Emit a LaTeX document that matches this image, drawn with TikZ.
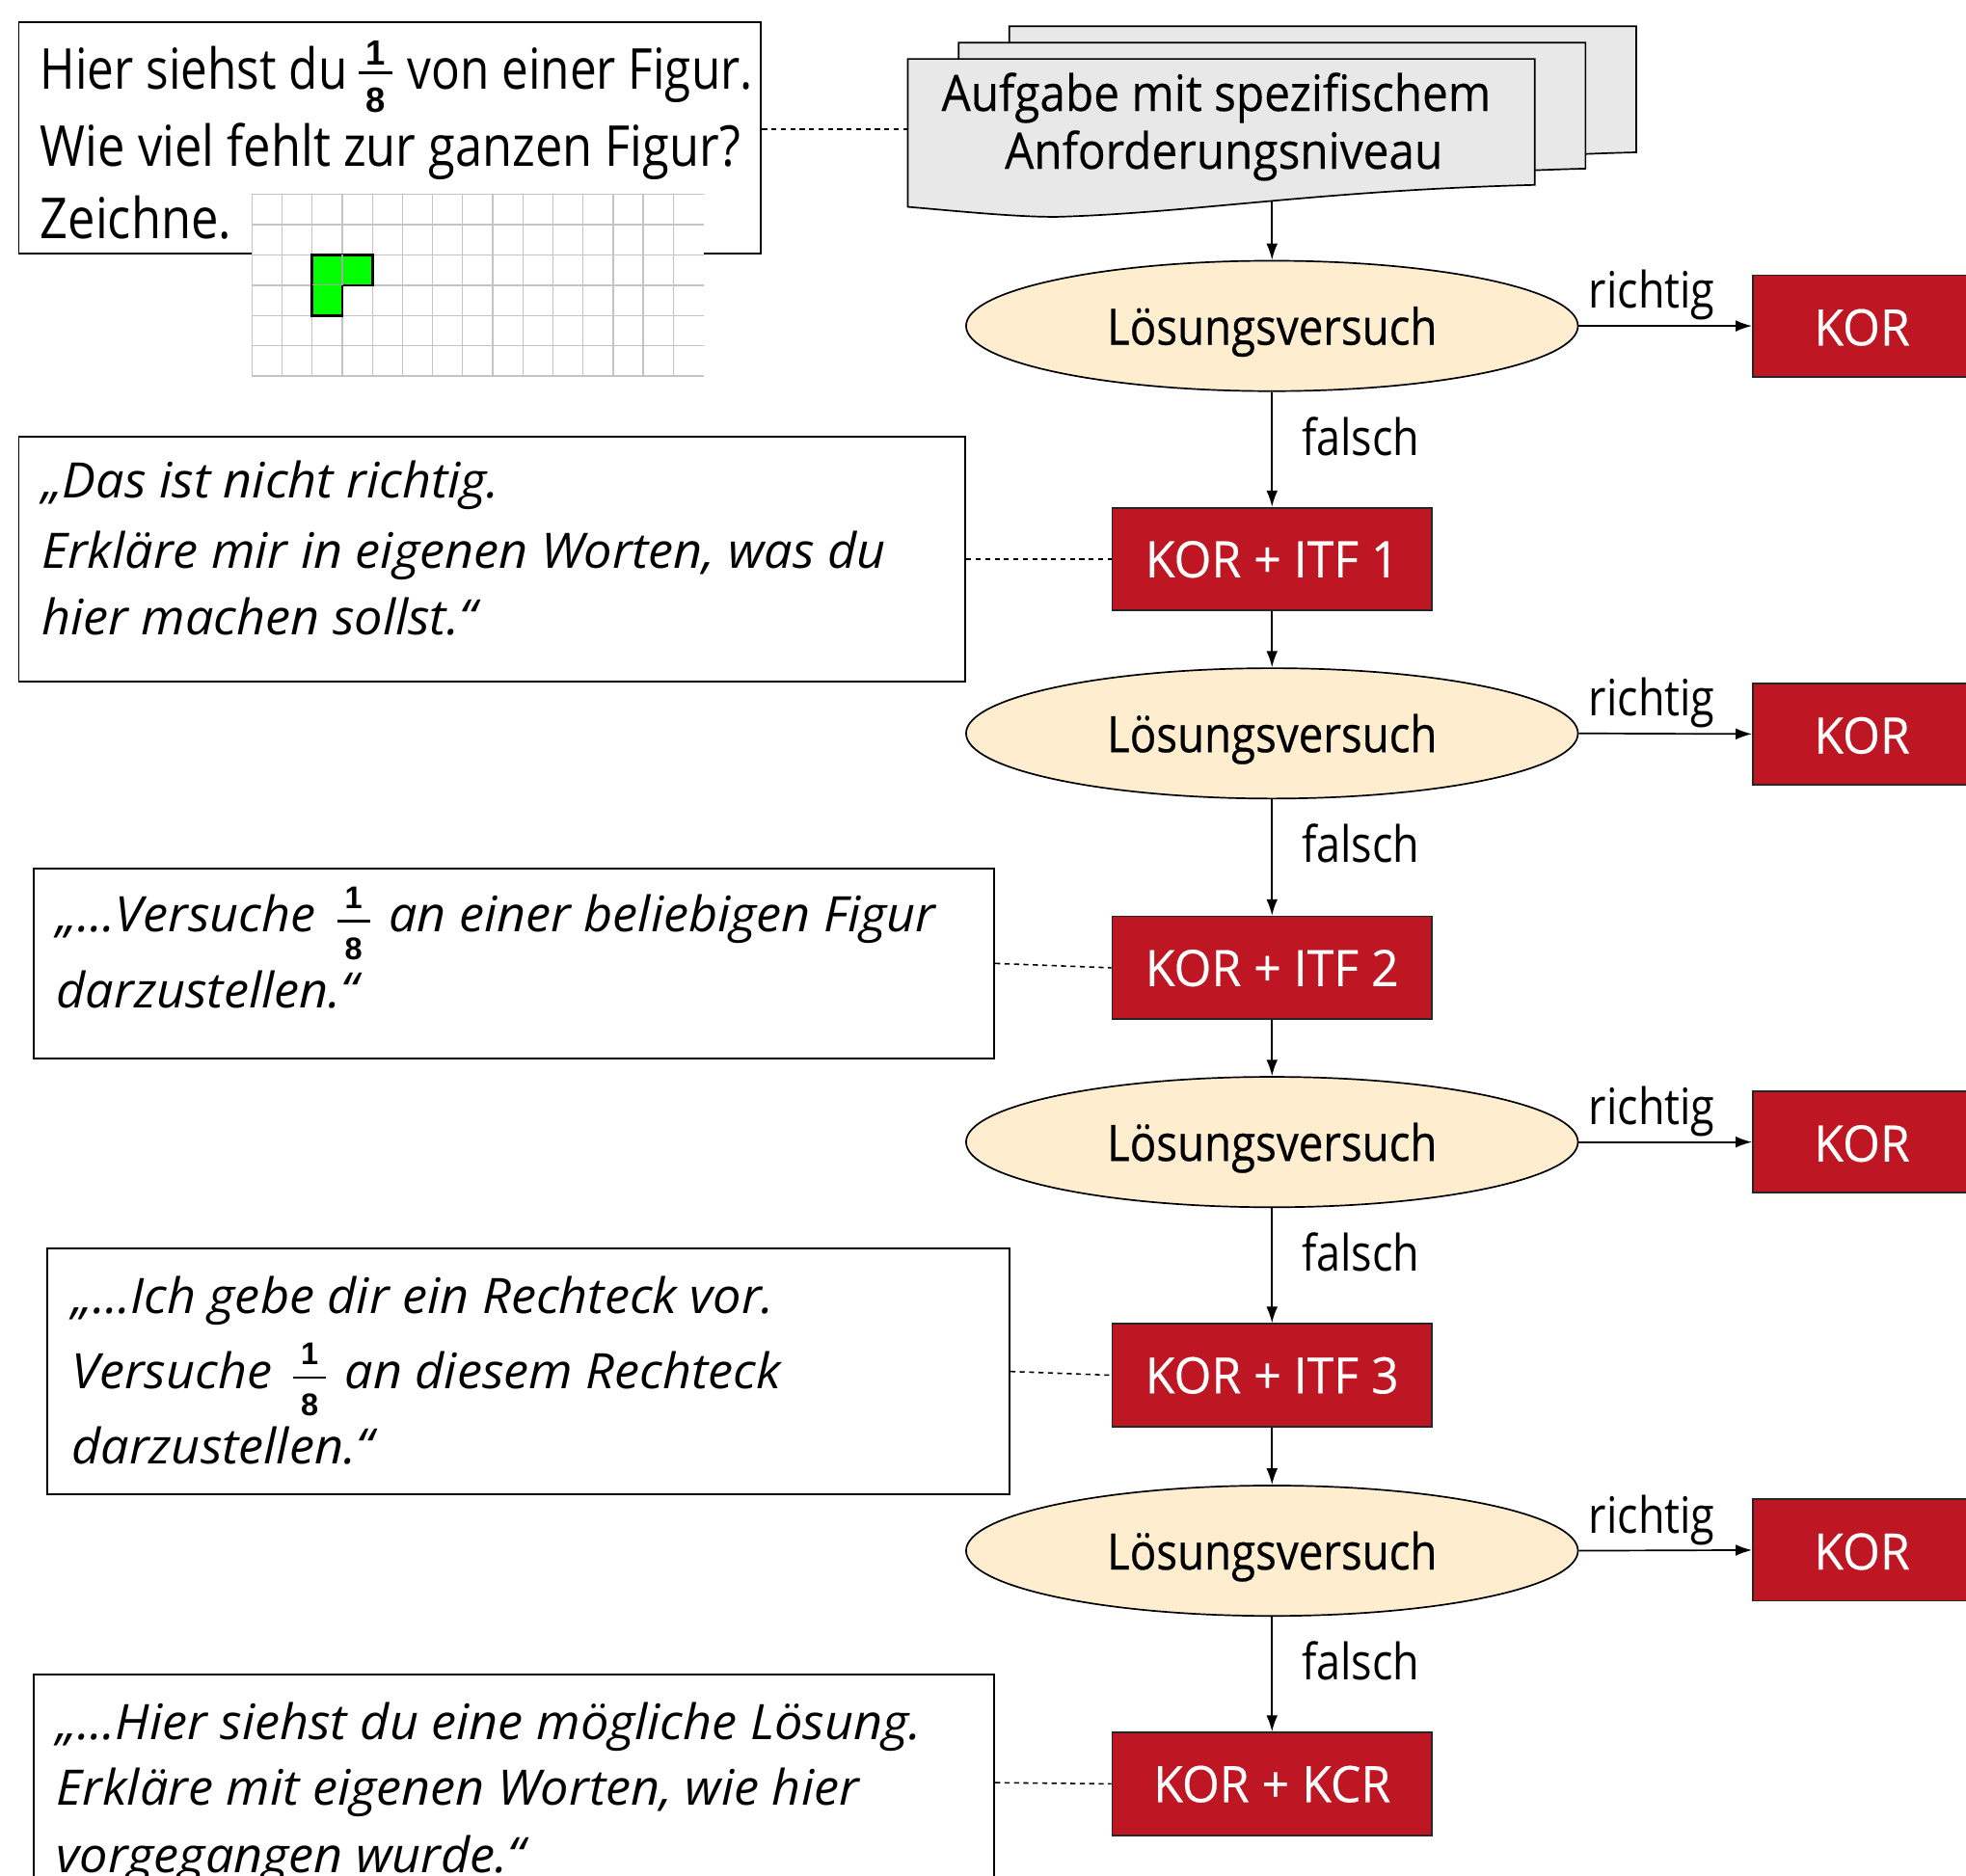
\documentclass[tikz,border=0pt]{standalone}
\usepackage{fontspec}
\setmainfont{Open Sans}[FakeStretch=0.865]
\newfontfamily\tlAfont{Open Sans}[FakeStretch=0.845]
\newfontfamily\lblfont{Open Sans}[FakeStretch=0.865]
\newfontfamily\ellfont{Open Sans}[FakeStretch=0.877,FakeBold=0.5]
\newfontfamily\docfont{Open Sans}[FakeStretch=0.918,FakeBold=0.3]
\newfontfamily\boxfont{Open Sans}[FakeStretch=0.96,FakeBold=0.3]
\newfontfamily\itfont{Open Sans}[FakeStretch=1.03]
\newfontfamily\fracfont{Liberation Sans}
\usetikzlibrary{arrows.meta,shapes.geometric}
\definecolor{korred}{HTML}{BE1622}
\definecolor{cream}{HTML}{FFEDCF}
\definecolor{docgray}{HTML}{E8E8E8}
\definecolor{gridgray}{HTML}{C4C4C4}
\definecolor{figgreen}{HTML}{00FF00}
\pgfdeclarelayer{bg}
\pgfsetlayers{bg,main}
% stacked fraction 1/8: #1 size, #2 raise of 1, #3 raise of bar, #4 depth of 8,
% #5 space before, #6 bar width, #7 space after
\newcommand\ofrgen[7]{\mbox{\kern#5\fracfont\bfseries\upshape\fontsize{#1}{#1}\selectfont
 \makebox[0pt][l]{\makebox[#6]{\raisebox{#2}{1}}}%
 \makebox[0pt][l]{\makebox[#6]{\raisebox{#3}{\rule{#6}{2pt}}}}%
 \makebox[#6]{\raisebox{-#4}{8}}\kern#7}}
\newcommand\ofrA{\ofrgen{28}{19.3pt}{12.6pt}{18.4pt}{9pt}{27pt}{12pt}}
\newcommand\ofrB{\ofrgen{25}{18.9pt}{7.6pt}{21.6pt}{17pt}{26pt}{15pt}}
\newcommand\docshape[2]{%
 (724+#1,47+#2) -- (1224+#1,47+#2) -- (1224+#1,147.5+#2)
 .. controls (1050+#1,152+#2) and (950+#1,170+#2) .. (842+#1,173+#2)
 .. controls (810+#1,173+#2) and (770+#1,169+#2) .. (724+#1,165+#2) -- cycle}
\tikzset{
 lbl/.style={anchor=base west, inner sep=0pt, font=\lblfont\fontsize{40}{48}\selectfont},
 ell/.style={ellipse, draw, fill=cream, line width=1.3pt, minimum width=488pt,
   minimum height=104pt, inner sep=0pt, text height=30pt, text depth=0pt,
   font=\ellfont\fontsize{40}{48}\selectfont},
 redbox/.style={rectangle, draw=black!85, line width=1.3pt, fill=korred, text=white,
   minimum width=255pt, minimum height=82pt, inner sep=0pt, text height=29pt, text depth=0pt,
   font=\boxfont\fontsize{40}{48}\selectfont},
 korbox/.style={redbox, minimum width=174pt, minimum height=81pt, text height=31pt},
 tbox/.style={rectangle, draw, line width=1.5pt, fill=white, inner sep=0pt},
 itext/.style={anchor=base west, inner sep=0pt, font=\itfont\itshape\fontsize{39}{46}\selectfont},
 ttext/.style={anchor=base west, inner sep=0pt, font=\fontsize{45}{54}\selectfont},
 doctext/.style={anchor=base, inner sep=0pt, font=\docfont\fontsize{40}{46}\selectfont},
 arr/.style={-{Latex[length=13pt,width=9pt]}, line width=1.3pt},
 dotline/.style={dash pattern=on 4pt off 3.5pt, line width=1.2pt},
 docsheet/.style={draw, fill=docgray, line width=1.3pt},
 gridline/.style={gridgray, line width=1pt}
}
\begin{document}
\begin{tikzpicture}[x=1pt,y=-1pt]
\useasboundingbox[fill=white] (0,0) rectangle (1568,1496);

% ---- top-left task box with grid
\node[tbox, minimum width=592pt, minimum height=184pt] (b1) at (311,110) {};
\node[ttext, font=\tlAfont\fontsize{45}{54}\selectfont] (t1a) at (32,71.5)
  {Hier siehst du\ofrA von einer Figur.};
\node[ttext] (t1b) at (32,133) {Wie viel fehlt zur ganzen Figur?};
\node[ttext] (t1c) at (32,190) {Zeichne.};
\fill[white] (201,155) rectangle (561,300);
\foreach \i in {0,...,14} \draw[gridline] (201+24*\i,155) -- (201+24*\i,300);
\foreach \j in {0,...,6} \draw[gridline] (201,155+24.17*\j) -- (561,155+24.17*\j);
\filldraw[fill=figgreen, draw=black, line width=2pt]
  (249,203.3) -- (297,203.3) -- (297,227.5) -- (273,227.5) -- (273,251.7) -- (249,251.7) -- cycle;
\draw[black!35, line width=0.8pt] (273,203.3) -- (273,227.5) -- (249,227.5);

% ---- document stack
\draw[docsheet] \docshape{81}{-26};
\draw[docsheet] \docshape{40.5}{-13};
\draw[docsheet] \docshape{0}{0};
\coordinate (docleft) at (724,103);
\coordinate (docbot) at (1014.5,161);
\coordinate (docback) at (1305,97);
\node[doctext] (dt1) at (970,88.5) {Aufgabe mit spezifischem};
\node[doctext] (dt2) at (976,134.6) {Anforderungsniveau};

% ---- main column
\node[ell] (e1) at (1014.5,260) {Lösungsversuch};
\node[ell] (e2) at (1014.5,585) {Lösungsversuch};
\node[ell] (e3) at (1014.5,911) {Lösungsversuch};
\node[ell] (e4) at (1014.5,1237) {Lösungsversuch};
\node[redbox] (r1) at (1014.5,446) {KOR + ITF 1};
\node[redbox] (r2) at (1014.5,772) {KOR + ITF 2};
\node[redbox] (r3) at (1014.5,1097) {KOR + ITF 3};
\node[redbox] (r4) at (1014.5,1423) {KOR + KCR};
\node[korbox] (k1) at (1485,260) {KOR};
\node[korbox] (k2) at (1485,585.5) {KOR};
\node[korbox] (k3) at (1485,911) {KOR};
\node[korbox] (k4) at (1485,1236.5) {KOR};
\coordinate (fbtop) at (1485,97);

\draw[arr] (docbot) -- (e1.north);
\draw[arr] (e1.south) -- (r1.north);
\draw[arr] (r1.south) -- (e2.north);
\draw[arr] (e2.south) -- (r2.north);
\draw[arr] (r2.south) -- (e3.north);
\draw[arr] (e3.south) -- (r3.north);
\draw[arr] (r3.south) -- (e4.north);
\draw[arr] (e4.south) -- (r4.north);
\draw[arr] (e1.east) -- (k1.west);
\draw[arr] (e2.east) -- (k2.west);
\draw[arr] (e3.east) -- (k3.west);
\draw[arr] (e4.east) -- (k4.west);
\begin{pgfonlayer}{bg}
\draw[arr] (r4.east) -| (fbtop) -- (docback);
\end{pgfonlayer}

\node[lbl] (ri1) at (1267,246) {richtig};
\node[lbl] (ri2) at (1267,571) {richtig};
\node[lbl] (ri3) at (1267,897) {richtig};
\node[lbl] (ri4) at (1267,1223) {richtig};
\node[lbl] (fa1) at (1038,363) {falsch};
\node[lbl] (fa2) at (1038,688) {falsch};
\node[lbl] (fa3) at (1038,1014) {falsch};
\node[lbl] (fa4) at (1038,1340) {falsch};

% ---- hint boxes
\node[tbox, minimum width=755pt, minimum height=196pt] (b2) at (392.5,446) {};
\node[itext] (t2a) at (33,397) {„Das ist nicht richtig.};
\node[itext] (t2b) at (33,453) {Erkläre mir in eigenen Worten, was du};
\node[itext] (t2c) at (33,506) {hier machen sollst.“};

\node[tbox, minimum width=766pt, minimum height=151pt] (b3) at (410,768.5) {};
\node[itext] (t3a) at (45,743.6) {„...Versuche\ofrB an einer beliebigen Figur};
\node[itext] (t3b) at (45,803.6) {darzustellen.“};

\node[tbox, minimum width=767pt, minimum height=196pt] (b4) at (421.5,1094) {};
\node[itext] (t4a) at (57,1047.6) {„...Ich gebe dir ein Rechteck vor.};
\node[itext] (t4b) at (57,1107.6) {Versuche\ofrB an diesem Rechteck};
\node[itext] (t4c) at (57,1167.6) {darzustellen.“};

\node[tbox, minimum width=766pt, minimum height=172pt] (b5) at (410,1422) {};
\node[itext] (t5a) at (45,1388) {„...Hier siehst du eine mögliche Lösung.};
\node[itext] (t5b) at (45,1440) {Erkläre mit eigenen Worten, wie hier};
\node[itext] (t5c) at (45,1494) {vorgegangen wurde.“};

% ---- dotted links
\draw[dotline] (b1.east |- docleft) -- (docleft);
\draw[dotline] (b2.east) -- (r1.west);
\draw[dotline] (b3.east) -- (r2.west);
\draw[dotline] (b4.east) -- (r3.west);
\draw[dotline] (b5.east) -- (r4.west);
\end{tikzpicture}
\end{document}
